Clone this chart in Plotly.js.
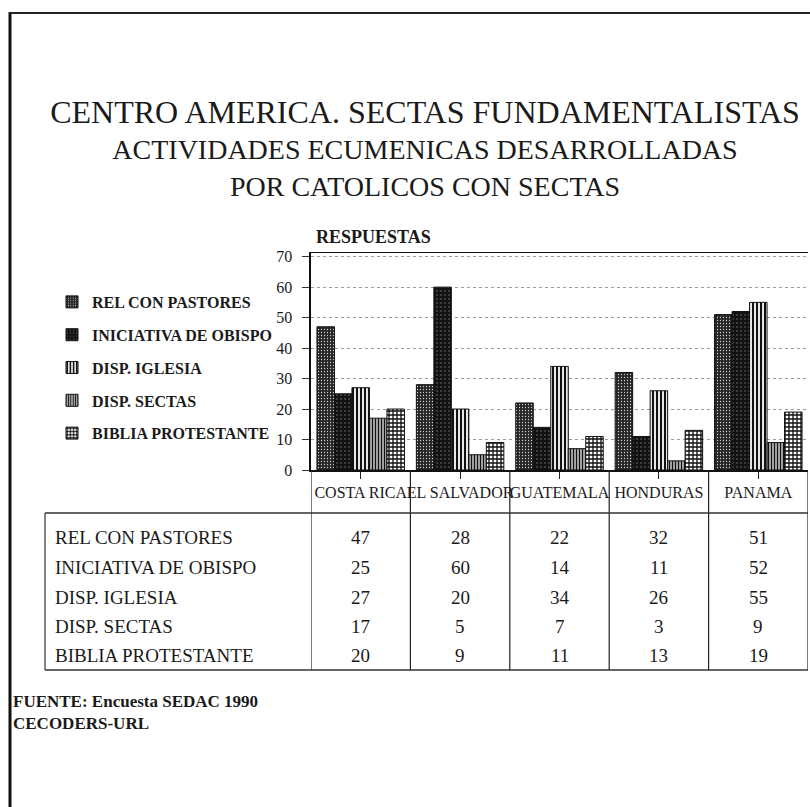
<!DOCTYPE html>
<html>
<head>
<meta charset="utf-8">
<script src="https://cdn.plot.ly/plotly-3.0.1.min.js"></script>
<style>html,body{margin:0;padding:0;background:#fff;} #chart{width:810px;height:807px;}</style>
</head>
<body>
<div id="chart"></div>
<script>
// ---- data ----
const categories = ['COSTA RICA', 'EL SALVADOR', 'GUATEMALA', 'HONDURAS', 'PANAMA'];
const seriesNames = ['REL CON PASTORES', 'INICIATIVA DE OBISPO', 'DISP. IGLESIA', 'DISP. SECTAS', 'BIBLIA PROTESTANTE'];
const relConPastores = [47, 28, 22, 32, 51];
const iniciativaObispo = [25, 60, 14, 11, 52];
const dispIglesia = [27, 20, 34, 26, 55];
const dispSectas = [17, 5, 7, 3, 9];
const bibliaProtestante = [20, 9, 11, 13, 19];
const yTickValues = [0, 10, 20, 30, 40, 50, 60, 70];
const titleLines = ['CENTRO AMERICA. SECTAS FUNDAMENTALISTAS', 'ACTIVIDADES ECUMENICAS DESARROLLADAS', 'POR CATOLICOS CON SECTAS'];
const yLabel = 'RESPUESTAS';
const sourceLines = ['FUENTE: Encuesta SEDAC 1990', 'CECODERS-URL'];

const seriesValues = [relConPastores, iniciativaObispo, dispIglesia, dispSectas, bibliaProtestante];

// ---- styles ----
const W = 810, H = 807;
const px = v => v / W;          // x pixel -> paper
const py = v => 1 - v / H;      // y pixel -> paper
const SERIF = '"Liberation Serif", "Times New Roman", serif';

const patterns = [
  {shape: '.', bgcolor: '#262626', fgcolor: '#d0d0d0', size: 3, solidity: 0.14},
  {shape: '.', bgcolor: '#121212', fgcolor: '#8a8a8a', size: 4, solidity: 0.08},
  {shape: '|', bgcolor: '#ffffff', fgcolor: '#111111', size: 4, solidity: 0.55},
  {shape: '|', bgcolor: '#ffffff', fgcolor: '#111111', size: 3, solidity: 0.6},
  {shape: '+', bgcolor: '#ffffff', fgcolor: '#111111', size: 4, solidity: 0.55}
];

const traces = seriesNames.map((name, i) => ({
  type: 'bar',
  name: name,
  x: categories,
  y: seriesValues[i],
  legendgroup: 'g' + i,
  marker: {
    color: patterns[i].bgcolor,
    line: {color: '#111', width: 1},
    pattern: Object.assign({fillmode: 'replace'}, patterns[i])
  },
  hoverinfo: 'x+y+name'
}));

// ---- table & frame ----
const plotBottom = 470, plotTop = 253;
const tableTop = 513, tableBottom = 670, tableLeft = 45, tableRight = 808;
const rowY = [537, 567, 597, 626, 655];

const shapes = [];
// frame of the page
shapes.push({type: 'line', xref: 'paper', yref: 'paper', x0: px(10), x1: px(10), y0: py(12), y1: py(807), line: {color: '#111', width: 3}});
shapes.push({type: 'line', xref: 'paper', yref: 'paper', x0: px(10), x1: px(810), y0: py(13), y1: py(13), line: {color: '#222', width: 2}});
// column separators (at category boundaries)
for (let k = 0; k <= categories.length; k++) {
  shapes.push({type: 'line', xref: 'x', yref: 'paper', x0: k - 0.5, x1: k - 0.5, y0: py(plotBottom), y1: py(tableBottom), line: {color: '#222', width: 1.2}});
}
// table horizontal lines and left border
shapes.push({type: 'line', xref: 'paper', yref: 'paper', x0: px(tableLeft), x1: px(tableRight), y0: py(tableTop), y1: py(tableTop), line: {color: '#333', width: 1.5}});
shapes.push({type: 'line', xref: 'paper', yref: 'paper', x0: px(tableLeft), x1: px(tableRight), y0: py(tableBottom), y1: py(tableBottom), line: {color: '#333', width: 1.5}});
shapes.push({type: 'line', xref: 'paper', yref: 'paper', x0: px(tableLeft), x1: px(tableLeft), y0: py(tableTop), y1: py(tableBottom), line: {color: '#333', width: 1.2}});

const annotations = [];
seriesNames.forEach((name, i) => {
  annotations.push({xref: 'paper', yref: 'paper', x: px(53), y: py(rowY[i]), xanchor: 'left', yanchor: 'middle',
    text: name, showarrow: false, font: {family: SERIF, size: 19, color: '#1a1a1a'}});
  categories.forEach((c, j) => {
    annotations.push({xref: 'x', yref: 'paper', x: c, y: py(rowY[i]), xanchor: 'center', yanchor: 'middle',
      text: String(seriesValues[i][j]), showarrow: false, font: {family: SERIF, size: 19, color: '#1a1a1a'}});
  });
});
annotations.push({xref: 'paper', yref: 'paper', x: px(314), y: py(237), xanchor: 'left', yanchor: 'middle',
  text: '<b>' + yLabel + '</b>', showarrow: false, font: {family: SERIF, size: 18, color: '#1a1a1a'}});
annotations.push({xref: 'paper', yref: 'paper', x: px(11), y: py(712), xanchor: 'left', yanchor: 'middle', align: 'left',
  text: '<b>' + sourceLines.join('<br>') + '</b>', showarrow: false, font: {family: SERIF, size: 17, color: '#1a1a1a'}});

const spanFont = "font-family:'Liberation Serif','Times New Roman',serif;";
const titleText = titleLines.map((t, i) =>
  '<span style="' + spanFont + 'font-size:' + (i === 0 ? 32 : 28) + 'px">' + t + '</span>').join('<br>');

const layout = {
  width: W, height: H,
  margin: {l: 0, r: 0, t: 0, b: 0},
  font: {family: SERIF, color: '#1a1a1a'},
  paper_bgcolor: '#ffffff',
  plot_bgcolor: '#ffffff',
  showlegend: true,
  title: {
    text: titleText,
    x: px(425), xanchor: 'center', xref: 'paper',
    y: py(123), yanchor: 'top', yref: 'container',
    font: {family: SERIF, size: 28, color: '#1a1a1a'}
  },
  barmode: 'group',
  bargap: 0.12,
  bargroupgap: 0,
  xaxis: {
    domain: [px(311), px(808)],
    type: 'category',
    range: [-0.5, categories.length - 0.5],
    showline: true, linecolor: '#111', linewidth: 1.5, mirror: true,
    ticks: 'outside', ticklen: 7, tickcolor: '#222',
    tickangle: 0,
    tickfont: {family: SERIF, size: 16, color: '#1a1a1a'},
    showgrid: false, fixedrange: true
  },
  yaxis: {
    domain: [py(plotBottom), py(plotTop)],
    range: [0, 71.2],
    tickvals: yTickValues,
    ticks: 'outside', ticklen: 7, tickcolor: '#333',
    ticklabelstandoff: 6,
    tickfont: {family: SERIF, size: 16, color: '#1a1a1a'},
    showline: true, linecolor: '#111', linewidth: 2.5,
    showgrid: true, gridcolor: '#9a9a9a', griddash: 'dot', gridwidth: 1,
    zeroline: false, fixedrange: true
  },
  legend: {
    x: px(52), xanchor: 'left',
    y: py(285), yanchor: 'top',
    bgcolor: 'rgba(0,0,0,0)',
    font: {family: SERIF, size: 16, color: '#1a1a1a', weight: 'bold'},
    tracegroupgap: 9,
    traceorder: 'grouped'
  },
  shapes: shapes,
  annotations: annotations
};

Plotly.newPlot('chart', traces, layout, {displayModeBar: false, staticPlot: true});
</script>
</body>
</html>
